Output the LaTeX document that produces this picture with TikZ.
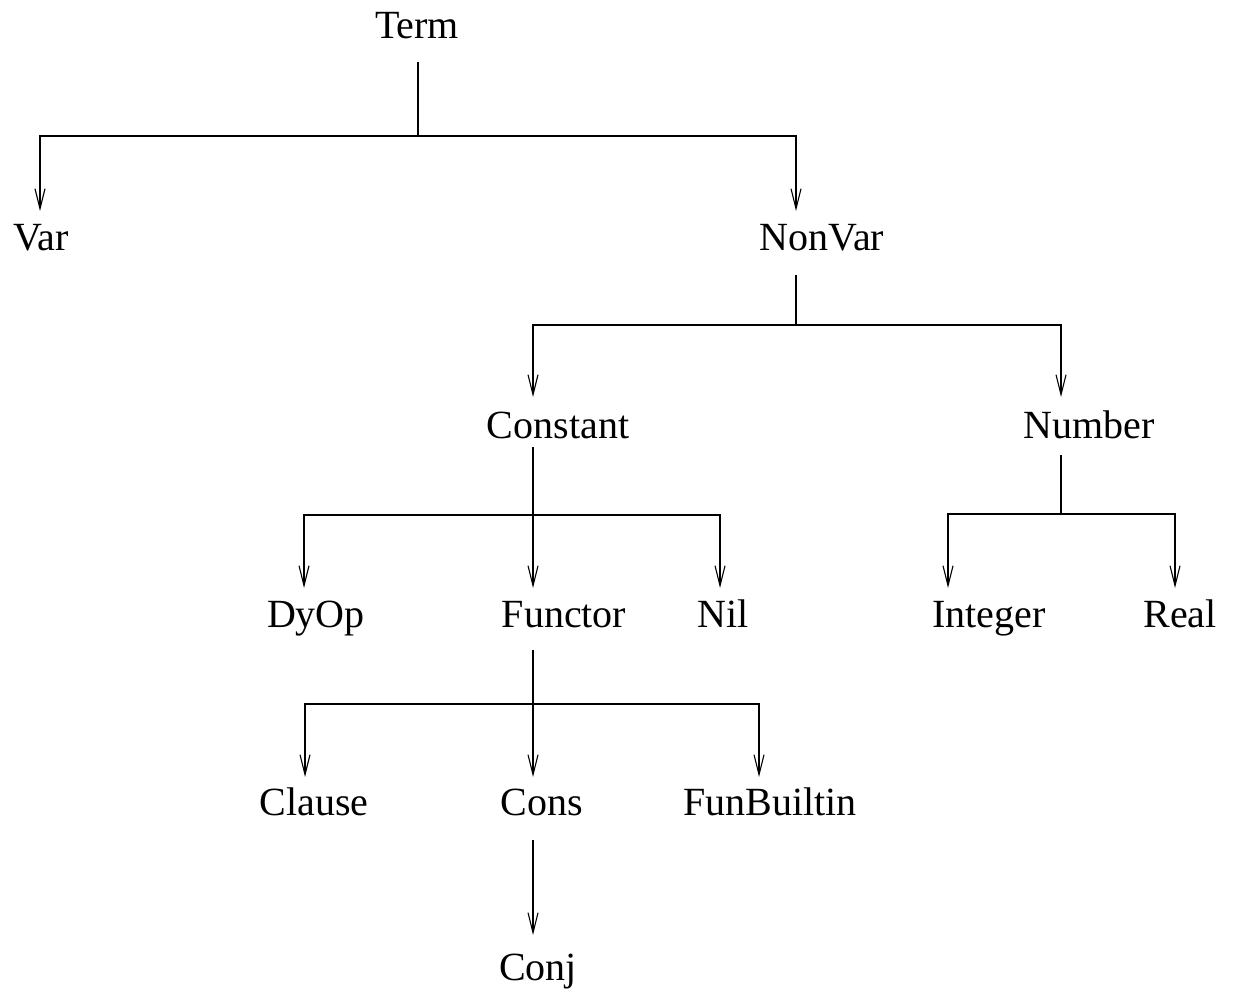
\documentclass[tikz,border=0pt]{standalone}
\usepackage{fontspec}
\setmainfont{Liberation Serif}
\usetikzlibrary{arrows.meta}
\begin{document}
\begin{tikzpicture}[x=1pt,y=-1pt,
  lbl/.style={anchor=base,inner sep=0pt,font=\fontsize{40}{48}\selectfont},
  edge/.style={line width=1.3pt,line cap=butt},
  arr/.style={edge,-{Straight Barb[length=20pt,width=10pt,line width=1.1pt]}}]
\useasboundingbox (0,0) rectangle (1237,994);

% class names
\node[lbl] (Term)     at (417,38)  {Term};
\node[lbl] (Var)      at (41,250)  {Var};
\node[lbl] (NonVar)   at (822,250) {NonVar};
\node[lbl] (Constant) at (558,438) {Constant};
\node[lbl] (Number)   at (1089,438) {Number};
\node[lbl] (DyOp)     at (316,627) {DyOp};
\node[lbl] (Functor)  at (564,627) {Functor};
\node[lbl] (Nil)      at (723,627) {Nil};
\node[lbl] (Integer)  at (989,627) {Integer};
\node[lbl] (Real)     at (1180,627) {Real};
\node[lbl] (Clause)   at (314,815) {Clause};
\node[lbl] (Cons)     at (542,815) {Cons};
\node[lbl] (FunBuiltin) at (770,815) {FunBuiltin};
\node[lbl] (Conj)     at (538,980) {Conj};

% branching points
\coordinate (bTerm)     at (418,136);
\coordinate (bNonVar)   at (796,325);
\coordinate (bConstant) at (533,515);
\coordinate (bNumber)   at (1061,514);
\coordinate (bFunctor)  at (533,704);

% arrow tips
\coordinate (tVar)      at (40,211);
\coordinate (tNonVar)   at (796,211);
\coordinate (tConstant) at (533,397);
\coordinate (tNumber)   at (1061,397);
\coordinate (tDyOp)     at (304,588);
\coordinate (tFunctor)  at (533,588);
\coordinate (tNil)      at (720,588);
\coordinate (tInteger)  at (948,588);
\coordinate (tReal)     at (1175,588);
\coordinate (tClause)   at (305,777);
\coordinate (tCons)     at (533,777);
\coordinate (tFunBuiltin) at (759,777);
\coordinate (tConj)     at (533,935);

% Term
\draw[edge] ([yshift=-24pt]Term.base -| bTerm) -- (bTerm);
\draw[arr] (bTerm) -| (tVar);
\draw[arr] (bTerm) -| (tNonVar);

% NonVar
\draw[edge] ([yshift=-25pt]NonVar.base -| bNonVar) -- (bNonVar);
\draw[arr] (bNonVar) -| (tConstant);
\draw[arr] (bNonVar) -| (tNumber);

% Constant
\draw[edge] ([yshift=-9pt]Constant.base -| bConstant) -- (bConstant);
\draw[arr] (bConstant) -| (tDyOp);
\draw[arr] (bConstant) -- (tFunctor);
\draw[arr] (bConstant) -| (tNil);

% Number
\draw[edge] ([yshift=-17pt]Number.base -| bNumber) -- (bNumber);
\draw[arr] (bNumber) -| (tInteger);
\draw[arr] (bNumber) -| (tReal);

% Functor
\draw[edge] ([yshift=-23pt]Functor.base -| bFunctor) -- (bFunctor);
\draw[arr] (bFunctor) -| (tClause);
\draw[arr] (bFunctor) -- (tCons);
\draw[arr] (bFunctor) -| (tFunBuiltin);

% Cons
\draw[arr] ([yshift=-25pt]Cons.base -| tConj) -- (tConj);
\end{tikzpicture}
\end{document}
